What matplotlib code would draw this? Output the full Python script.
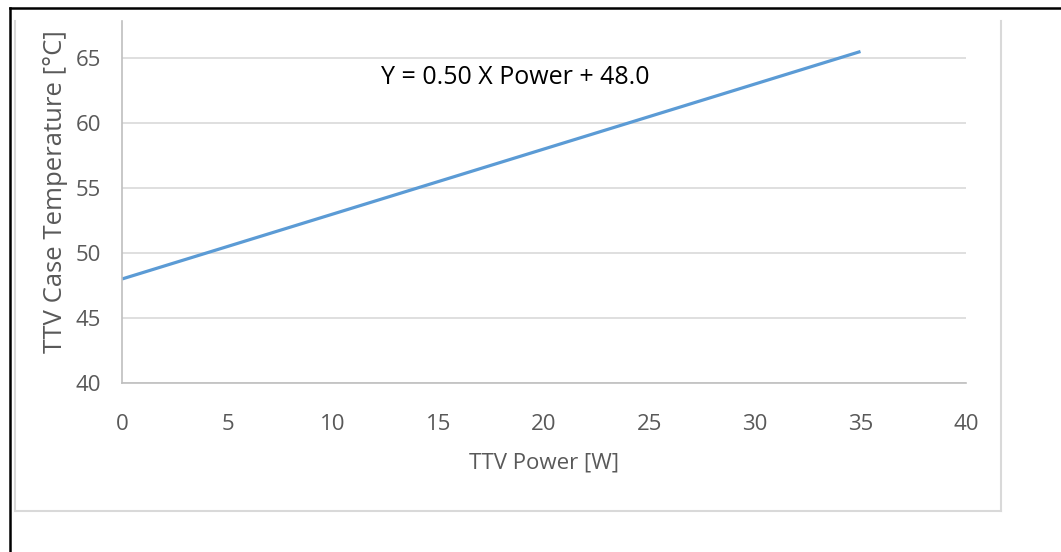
import matplotlib
matplotlib.use("Agg")
import matplotlib.pyplot as plt
from matplotlib.lines import Line2D

power = [0, 35]
temperature = [48.0, 65.5]
x_ticks = [0, 5, 10, 15, 20, 25, 30, 35, 40]
y_ticks = [40, 45, 50, 55, 60, 65]
equation = "Y = 0.50 X Power + 48.0"

W, H = 1061, 552
fig = plt.figure(figsize=(W / 100, H / 100), dpi=100)
plt.rcParams['font.family'] = ['Open Sans', 'DejaVu Sans']
STRETCH = "semi-condensed"

def fx(px):
    return px / W

def fy(py):
    return 1 - py / H

ax = fig.add_axes([fx(122), fy(383), fx(966) - fx(122), fy(21) - fy(383)])
ax.plot(power, temperature, color="#5B9BD5", lw=2.3, solid_capstyle="butt")
ax.set_xlim(0, 40)
ax.set_ylim(40, 40 + (383 - 21) / 13.0)
ax.set_xticks(x_ticks)
ax.set_yticks(y_ticks)
ax.grid(axis="y", color="#D9D9D9", lw=1.2)
ax.set_axisbelow(True)
for s in ["top", "right"]:
    ax.spines[s].set_visible(False)
for s in ["left", "bottom"]:
    ax.spines[s].set_color("#BFBFBF")
    ax.spines[s].set_linewidth(1.2)
ax.tick_params(length=0, labelsize=16, colors="#595959")
ax.tick_params(axis="x", pad=22)
ax.tick_params(axis="y", pad=15)
for lab in ax.get_xticklabels() + ax.get_yticklabels():
    lab.set_fontstretch(STRETCH)
ax.set_xlabel("TTV Power [W]", fontsize=16, color="#595959", fontstretch=STRETCH)
ax.set_ylabel("TTV Case Temperature [°C]", fontsize=18.5, color="#595959", fontstretch=STRETCH)
ax.xaxis.set_label_coords((544 - 122) / (966 - 122), -(463 - 383) / (383 - 21))
ax.xaxis.label.set_va("center")
ax.yaxis.set_label_coords(-(122 - 56) / (966 - 122), (383 - 192) / (383 - 21))
ax.yaxis.label.set_va("center")
fig.text(fx(515), fy(78), equation, fontsize=18, color="black", ha="center", va="center",
         fontstretch=STRETCH)

# chart area border (gray) and outer black frame
fig.add_artist(Line2D([fx(15), fx(15)], [fy(21), fy(511)], color="#D9D9D9", lw=1.5))
fig.add_artist(Line2D([fx(1001), fx(1001)], [fy(21), fy(511)], color="#D9D9D9", lw=1.5))
fig.add_artist(Line2D([fx(15), fx(1001)], [fy(511), fy(511)], color="#D9D9D9", lw=1.5))
fig.add_artist(Line2D([fx(10), fx(1061)], [fy(8), fy(8)], color="black", lw=1.8))
fig.add_artist(Line2D([fx(10), fx(10)], [fy(8), fy(552)], color="black", lw=1.8))

fig.savefig("out.png", dpi=100)
